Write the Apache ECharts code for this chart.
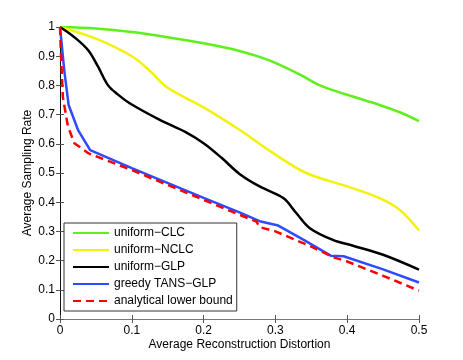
<!DOCTYPE html>
<html>
<head>
<meta charset="utf-8">
<script src="https://cdn.jsdelivr.net/npm/echarts@6/dist/echarts.min.js"></script>
<style>
  html, body { margin: 0; padding: 0; background: #fff; }
  #main { width: 463px; height: 360px; }
</style>
</head>
<body>
<div id="main"></div>
<script>
// values
const clcX = [0, 0.05, 0.1, 0.15, 0.2, 0.25, 0.28, 0.3, 0.335, 0.362, 0.4, 0.445, 0.473, 0.5];
const clcY = [1, 0.995, 0.983, 0.965, 0.944, 0.918, 0.896, 0.877, 0.836, 0.8, 0.768, 0.733, 0.708, 0.678];

const nclcX = [0, 0.05, 0.1, 0.125, 0.15, 0.2, 0.25, 0.297, 0.343, 0.4, 0.445, 0.473, 0.5];
const nclcY = [1, 0.96, 0.9, 0.85, 0.792, 0.725, 0.648, 0.568, 0.5, 0.454, 0.414, 0.374, 0.303];

const glpX = [0, 0.02, 0.039, 0.053, 0.067, 0.08, 0.097, 0.139, 0.175, 0.2, 0.225, 0.25, 0.278, 0.311, 0.329, 0.348, 0.38, 0.408, 0.45, 0.5];
const glpY = [1, 0.965, 0.921, 0.864, 0.8, 0.77, 0.739, 0.682, 0.64, 0.602, 0.552, 0.497, 0.454, 0.414, 0.363, 0.311, 0.271, 0.251, 0.22, 0.169];

const tansX = [0, 0.002, 0.006, 0.012, 0.025, 0.042, 0.1, 0.2, 0.25, 0.278, 0.304, 0.34, 0.377, 0.395, 0.45, 0.5];
const tansY = [1, 0.95, 0.85, 0.733, 0.648, 0.578, 0.517, 0.415, 0.365, 0.335, 0.32, 0.27, 0.217, 0.215, 0.17, 0.125];

const lbX = [0, 0.001, 0.002, 0.004, 0.011, 0.02, 0.04, 0.1, 0.2, 0.25, 0.2735, 0.278, 0.3, 0.35, 0.38, 0.4, 0.45, 0.5];
const lbY = [1, 0.93, 0.87, 0.76, 0.66, 0.602, 0.567, 0.51, 0.408, 0.357, 0.334, 0.315, 0.3, 0.248, 0.212, 0.197, 0.148, 0.097];

const xTicks = [0, 0.5, 0.1];   // min, max, step
const yTicks = [0, 1, 0.1];

function pairs(xs, ys) {
  return xs.map((x, i) => [x, ys[i]]);
}

const font = "'Liberation Sans', Arial, Helvetica, sans-serif";

const chart = echarts.init(document.getElementById("main"));

const baseX = {
  type: "value",
  min: xTicks[0],
  max: xTicks[1],
  interval: xTicks[2],
  splitLine: { show: false },
  axisTick: { inside: true, length: 4, lineStyle: { color: "#555" } },
};
const baseY = {
  type: "value",
  min: yTicks[0],
  max: yTicks[1],
  interval: yTicks[2],
  splitLine: { show: false },
  axisTick: { inside: true, length: 4, lineStyle: { color: "#555" } },
};

function lineSeries(name, xs, ys, color, extra) {
  return Object.assign({
    name: name,
    type: "line",
    symbol: "none",
    data: pairs(xs, ys),
    lineStyle: { color: color, width: 2.5 },
    itemStyle: { color: color },
  }, extra || {});
}

const option = {
  animation: false,
  textStyle: { fontFamily: font },
  grid: { left: 60, right: 44, top: 27, bottom: 41 },
  legend: {
    orient: "vertical",
    left: 64,
    top: 223,
    padding: [4, 4, 4, 8],
    itemWidth: 36,
    itemHeight: 12,
    itemGap: 5,
    backgroundColor: "#fff",
    borderColor: "#333",
    borderWidth: 1,
    borderRadius: 0,
    itemStyle: { color: "rgba(0,0,0,0)", borderWidth: 0 },
    textStyle: { fontSize: 12, color: "#000", fontFamily: font },
    data: ["uniform−CLC", "uniform−NCLC", "uniform−GLP", "greedy TANS−GLP", "analytical lower bound"],
  },
  xAxis: [
    Object.assign({}, baseX, {
      position: "bottom",
      name: "Average Reconstruction Distortion",
      nameLocation: "middle",
      nameGap: 20,
      nameMoveOverlap: false,
      nameTextStyle: { fontSize: 12, color: "#000", fontFamily: font },
      axisLine: { lineStyle: { color: "#666", width: 1 } },
      axisLabel: { fontSize: 12, color: "#000", margin: 6, fontFamily: font },
    }),
    Object.assign({}, baseX, {
      position: "top",
      axisLine: { lineStyle: { color: "#777", width: 1 } },
      axisLabel: { show: false },
    }),
  ],
  yAxis: [
    Object.assign({}, baseY, {
      position: "left",
      name: "Average Sampling Rate",
      nameLocation: "middle",
      nameGap: 26,
      nameMoveOverlap: false,
      nameTextStyle: { fontSize: 12, color: "#000", fontFamily: font },
      axisLine: { lineStyle: { color: "#111", width: 1 } },
      axisLabel: { fontSize: 12, color: "#000", margin: 5, fontFamily: font },
    }),
    Object.assign({}, baseY, {
      position: "right",
      axisLine: { lineStyle: { color: "#111", width: 1 } },
      axisLabel: { show: false },
    }),
  ],
  series: [
    lineSeries("uniform−CLC", clcX, clcY, "#5ef01c", { smooth: 0.35 }),
    lineSeries("uniform−NCLC", nclcX, nclcY, "#f2f20c", { smooth: 0.35 }),
    lineSeries("uniform−GLP", glpX, glpY, "#000000", { smooth: 0.35 }),
    lineSeries("greedy TANS−GLP", tansX, tansY, "#2f4bff"),
    lineSeries("analytical lower bound", lbX, lbY, "#ff0000", {
      lineStyle: { color: "#ff0000", width: 2.5, type: [8, 5] },
    }),
  ],
};

chart.setOption(option);
</script>
</body>
</html>
